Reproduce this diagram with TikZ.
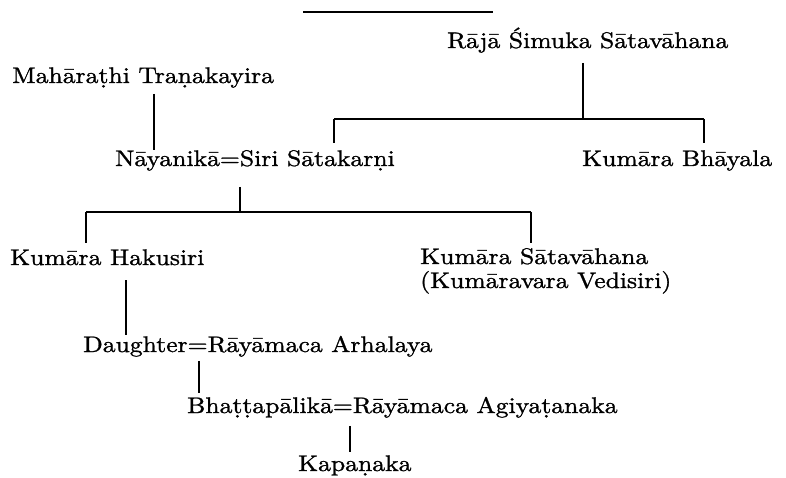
\documentclass[tikz,border=0pt]{standalone}
\usepackage{fontspec}
\setmainfont{lmroman10-regular.otf}[FakeStretch=1.14, FakeBold=1.2]

\tikzset{
  person/.style={inner sep=0pt, anchor=base west, font=\fontsize{22.5}{26}\selectfont},
  kin/.style={line width=1.6pt}
}

\begin{document}
\begin{tikzpicture}[x=1pt,y=-1pt]
\useasboundingbox (0,0) rectangle (786,478);

% People
\node[person] (raja) at (447,48) {Rājā Śimuka Sātavāhana};
\node[person] (maha) at (12,83) {Mahāraṭhi Traṇakayira};
\node[person] (naya) at (115,166) {Nāyanikā=Siri Sātakarṇi};
\node[person] (bhay) at (582,166) {Kumāra Bhāyala};
\node[person] (haku) at (10,265) {Kumāra Hakusiri};
\node[person] (sata) at (420,264) {Kumāra Sātavāhana};
\node[person] (vedi) at (420,288) {(Kumāravara Vedisiri)};
\node[person] (daug) at (83,352) {Daughter=Rāyāmaca Arhalaya};
\node[person] (bhat) at (187,413) {Bhaṭṭapālikā=Rāyāmaca Agiyaṭanaka};
\node[person] (kapa) at (298,471) {Kapaṇaka};

% Junctions
\coordinate (top1) at (303,12);
\coordinate (top2) at (493,12);
\coordinate (j1) at (583,119);
\coordinate (b1w) at (334,119);
\coordinate (b1e) at (704,119);
\coordinate (j2) at (240,212);
\coordinate (b2w) at (86,212);
\coordinate (b2e) at (531,212);
\coordinate (lm) at (154,0);
\coordinate (lh) at (126,0);
\coordinate (ld) at (199,0);
\coordinate (lb) at (350,0);

% Rule at the top
\draw[kin] (top1) -- (top2);

% Sons of Simuka
\draw[kin, shorten <=10pt] (raja.south -| j1) -- (j1);
\draw[kin] (b1w) -- (b1e);
\draw[kin, shorten >=7pt] (b1w) -- (naya.north -| b1w);
\draw[kin, shorten >=7pt] (b1e) -- (bhay.north -| b1e);
\draw[kin, shorten <=6pt, shorten >=0pt] (maha.south -| lm) -- (naya.north -| lm);

% Sons of Sātakarṇi
\draw[kin, shorten <=16pt] (naya.south -| j2) -- (j2);
\draw[kin] (b2w) -- (b2e);
\draw[kin, shorten >=6pt] (b2w) -- (haku.north -| b2w);
\draw[kin, shorten >=5pt] (b2e) -- (sata.north -| b2e);

% Later line
\draw[kin, shorten <=15pt, shorten >=1pt] (haku.south -| lh) -- (daug.north -| lh);
\draw[kin, shorten <=4pt, shorten >=4pt] (daug.south -| ld) -- (bhat.north -| ld);
\draw[kin, shorten <=8pt, shorten >=3pt] (bhat.south -| lb) -- (kapa.north -| lb);
\end{tikzpicture}
\end{document}
